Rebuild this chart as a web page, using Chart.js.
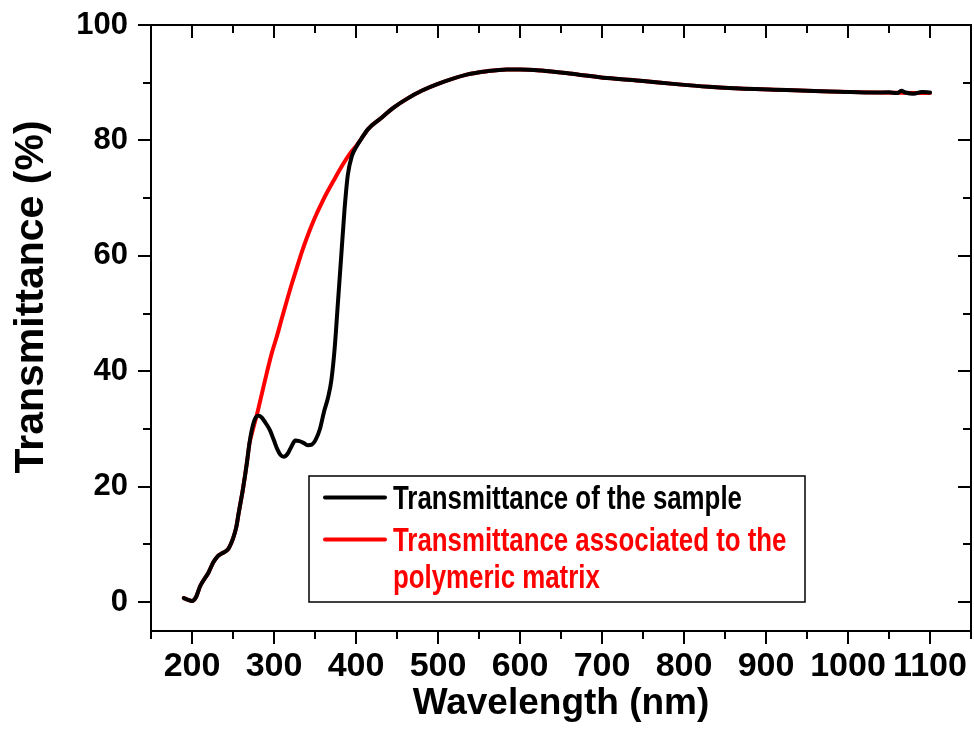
<!DOCTYPE html>
<html>
<head>
<meta charset="utf-8">
<script src="https://cdn.jsdelivr.net/npm/chart.js@4.4.1/dist/chart.umd.min.js"></script>
<style>
  html, body { margin: 0; padding: 0; background: #fff; }
  #wrap { width: 974px; height: 742px; }
</style>
</head>
<body>
<div id="wrap"><canvas id="chart" width="974" height="742"></canvas></div>
<script>
// wavelength (nm) / transmittance (%)
const sampleNm = [190, 195, 200, 205, 210, 220, 226, 231, 236, 242, 245, 250, 254, 257, 262, 267, 270, 273, 277, 281, 285, 290, 295, 300, 304, 308, 312, 317, 321, 326, 331, 336, 341, 346, 351, 356, 361, 366, 370, 374, 378, 382, 386, 390, 395, 400, 407, 415, 430, 445, 462, 480, 500, 535, 560, 584, 600, 626, 660, 706, 750, 787, 830, 868, 910, 950, 990, 1031, 1050, 1060, 1065, 1070, 1080, 1090, 1100];
const sampleT = [0.7, 0.4, 0.2, 0.9, 2.8, 5.1, 6.9, 7.9, 8.4, 8.9, 9.4, 11.0, 13.0, 15.5, 19.5, 24.2, 27.5, 29.9, 31.8, 32.3, 32.0, 31.0, 29.8, 28.0, 26.5, 25.5, 25.2, 25.8, 26.9, 28.0, 27.9, 27.6, 27.2, 27.3, 28.2, 30.0, 33.0, 35.5, 38.5, 44, 52, 60, 68, 74, 77.3, 78.8, 80.4, 82.0, 83.8, 85.6, 87.2, 88.6, 89.8, 91.4, 92.0, 92.3, 92.3, 92.1, 91.6, 90.8, 90.3, 89.8, 89.3, 89.0, 88.8, 88.6, 88.45, 88.3, 88.35, 88.2, 88.6, 88.3, 88.1, 88.4, 88.3];

const matrixNm = [190, 195, 200, 205, 210, 220, 226, 231, 236, 242, 245, 250, 254, 257, 262, 267, 270, 275, 279, 285, 291, 297, 304, 310, 316, 322, 328, 334, 340, 346, 352, 358, 364, 373, 383, 393, 400, 407, 415, 430, 445, 462, 480, 500, 535, 560, 584, 600, 626, 660, 706, 750, 787, 830, 868, 910, 950, 990, 1031, 1060, 1100];
const matrixT = [0.7, 0.4, 0.2, 0.9, 2.8, 5.1, 6.9, 7.9, 8.4, 8.9, 9.4, 11.0, 13.0, 15.5, 19.5, 24.2, 27.4, 30.3, 32.4, 36.0, 39.6, 43.0, 46.3, 49.4, 52.4, 55.3, 58.0, 60.7, 63.1, 65.3, 67.3, 69.1, 70.8, 73.1, 75.6, 77.8, 79.0, 80.4, 82.0, 83.8, 85.6, 87.2, 88.6, 89.8, 91.4, 92.0, 92.3, 92.3, 92.1, 91.6, 90.8, 90.3, 89.8, 89.3, 89.0, 88.8, 88.6, 88.45, 88.3, 88.25, 88.2];

const xTicks = [200, 300, 400, 500, 600, 700, 800, 900, 1000, 1100];
const yTicks = [0, 20, 40, 60, 80, 100];
const xMinorStep = 50;
const yMinorStep = 10;

const FONT = '"Liberation Sans", Arial, sans-serif';
Chart.defaults.font.family = FONT;
Chart.defaults.font.weight = 'bold';
Chart.defaults.color = '#000';

// Origin-style frame: ticks out on left/bottom, in on top/right, with minor ticks
const frameTicks = {
  id: 'frameTicks',
  afterDraw(chart) {
    const {ctx, chartArea: a, scales: {x, y}} = chart;
    ctx.save();
    ctx.strokeStyle = '#000';
    ctx.lineWidth = 2;
    ctx.strokeRect(a.left, a.top, a.right - a.left, a.bottom - a.top);
    ctx.beginPath();
    for (let v = x.min; v <= x.max; v += xMinorStep) {
      const px = Math.round(x.getPixelForValue(v));
      const len = xTicks.includes(v) ? 13 : 8;
      ctx.moveTo(px, a.bottom); ctx.lineTo(px, a.bottom + len);
      ctx.moveTo(px, a.top); ctx.lineTo(px, a.top + len);
    }
    for (let v = 0; v <= y.max; v += yMinorStep) {
      const py = Math.round(y.getPixelForValue(v));
      const len = yTicks.includes(v) ? 13 : 8;
      ctx.moveTo(a.left, py); ctx.lineTo(a.left - len, py);
      ctx.moveTo(a.right, py); ctx.lineTo(a.right - len, py);
    }
    ctx.stroke();
    ctx.restore();
  }
};

// y title sits a bit above the middle in the original, so draw it by hand
const yTitle = {
  id: 'yTitle',
  afterDraw(chart) {
    const ctx = chart.ctx;
    ctx.save();
    ctx.translate(43, 297);
    ctx.rotate(-Math.PI / 2);
    ctx.font = 'bold 41px ' + FONT;
    ctx.fillStyle = '#000';
    ctx.textAlign = 'center';
    ctx.textBaseline = 'alphabetic';
    ctx.fillText('Transmittance (%)', 0, 0);
    ctx.restore();
  }
};

// boxed legend inside the plot, narrow bold text coloured like the series
const boxLegend = {
  id: 'boxLegend',
  afterDatasetsDraw(chart) {
    const {ctx, chartArea: a} = chart;
    const left = a.left + 158, top = a.top + 451, w = 496, h = 126;
    const squeeze = 0.783;
    ctx.save();
    ctx.fillStyle = '#fff';
    ctx.fillRect(left, top, w, h);
    ctx.strokeStyle = '#000';
    ctx.lineWidth = 1.5;
    ctx.strokeRect(left, top, w, h);
    ctx.font = 'bold 33px ' + FONT;
    let base = top + 33;
    chart.data.datasets.forEach(ds => {
      // wrap label at ~420px (after squeeze)
      const words = ds.label.split(' ');
      const lines = [];
      let cur = '';
      words.forEach(wd => {
        const t = cur ? cur + ' ' + wd : wd;
        if (ctx.measureText(t).width * squeeze > 420 && cur) { lines.push(cur); cur = wd; }
        else cur = t;
      });
      lines.push(cur);
      ctx.strokeStyle = ds.borderColor;
      ctx.lineWidth = 4;
      ctx.lineCap = 'round';
      ctx.beginPath();
      ctx.moveTo(left + 16, base - 11.5);
      ctx.lineTo(left + 76, base - 11.5);
      ctx.stroke();
      ctx.fillStyle = ds.borderColor;
      lines.forEach((ln, i) => {
        ctx.save();
        ctx.translate(left + 84, base);
        ctx.scale(squeeze, 1);
        ctx.fillText(ln, 0, 0);
        ctx.restore();
        if (i < lines.length - 1) base += 37;
      });
      base += 42;
    });
    ctx.restore();
  }
};

const toPoints = (xs, ys) => xs.map((v, i) => ({x: v, y: ys[i]}));

new Chart(document.getElementById('chart'), {
  type: 'line',
  data: {
    datasets: [{
      label: 'Transmittance of the sample',
      data: toPoints(sampleNm, sampleT),
      borderColor: '#000000',
      borderWidth: 4,
      pointRadius: 0,
      cubicInterpolationMode: 'monotone',
      borderCapStyle: 'round',
      borderJoinStyle: 'round'
    }, {
      label: 'Transmittance associated to the polymeric matrix',
      data: toPoints(matrixNm, matrixT),
      borderColor: '#ff0000',
      borderWidth: 4,
      pointRadius: 0,
      cubicInterpolationMode: 'monotone',
      borderCapStyle: 'round',
      borderJoinStyle: 'round'
    }]
  },
  options: {
    responsive: false,
    animation: false,
    layout: { padding: { top: 25, right: 3, left: 0, bottom: 0 } },
    plugins: { legend: { display: false }, tooltip: { enabled: false } },
    scales: {
      x: {
        type: 'linear',
        min: 150,
        max: 1150,
        afterBuildTicks: s => { s.ticks = xTicks.map(v => ({value: v})); },
        afterFit: s => { s.height = 111; s.paddingLeft = 0; s.paddingRight = 0; },
        grid: { display: false, drawTicks: false },
        border: { display: false },
        ticks: { font: { size: 34, weight: 'bold' }, padding: 15, maxRotation: 0, callback: v => String(v) },
        title: {
          display: true,
          text: 'Wavelength (nm)',
          font: { size: 37, weight: 'bold' },
          padding: { top: 0, bottom: 16 }
        }
      },
      y: {
        type: 'linear',
        min: -5,
        max: 100,
        afterBuildTicks: s => { s.ticks = yTicks.map(v => ({value: v})); },
        afterFit: s => { s.width = 151; s.paddingTop = 0; s.paddingBottom = 0; },
        grid: { display: false, drawTicks: false },
        border: { display: false },
        ticks: { font: { size: 31, weight: 'bold' }, padding: 23, callback: v => String(v) }
      }
    }
  },
  plugins: [frameTicks, boxLegend, yTitle]
});
</script>
</body>
</html>
